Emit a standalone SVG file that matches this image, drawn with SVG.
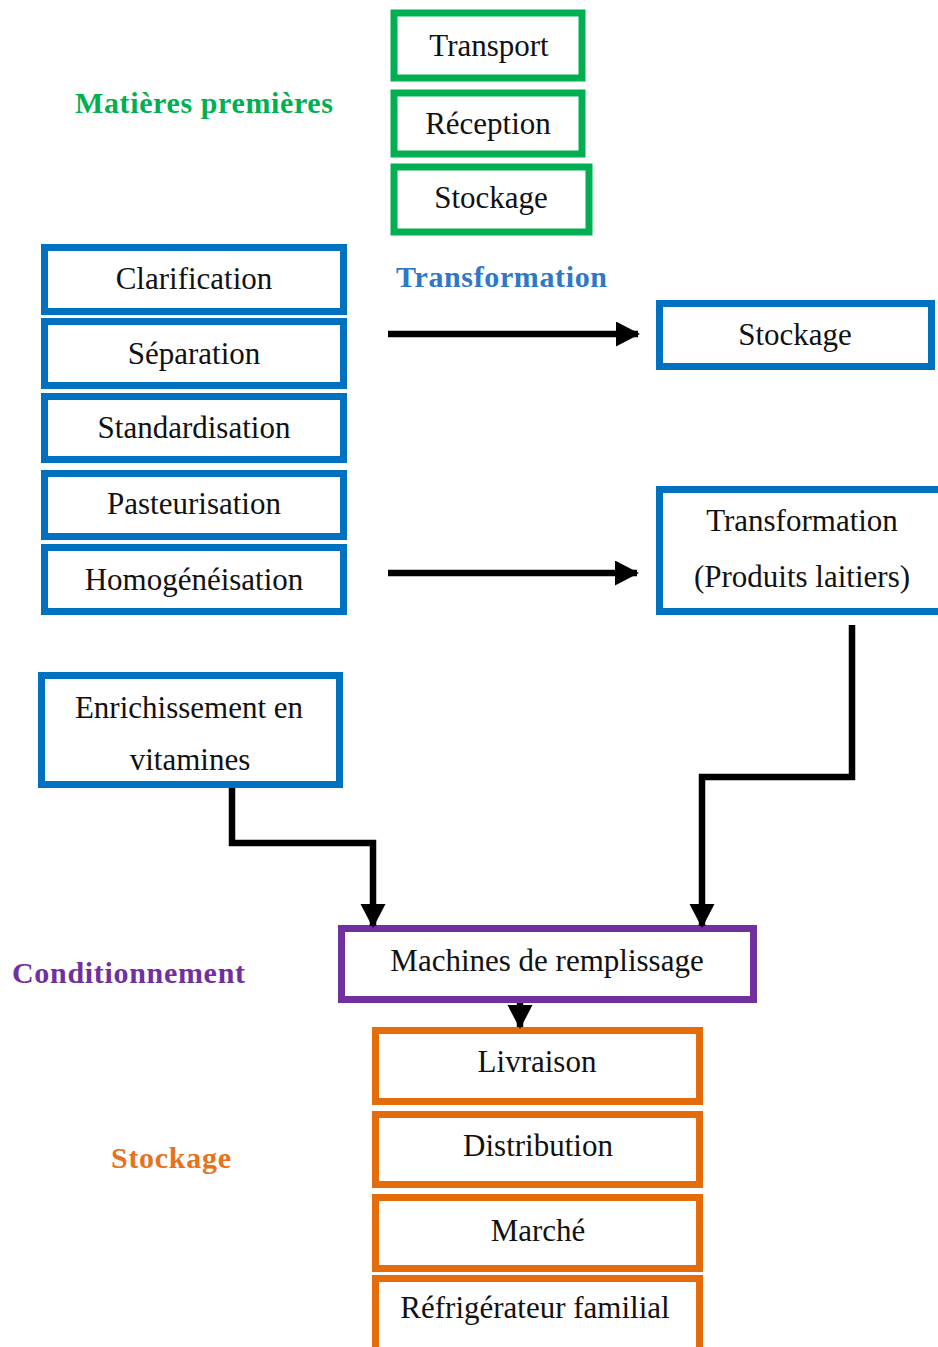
<svg xmlns="http://www.w3.org/2000/svg" width="938" height="1347" viewBox="0 0 938 1347">
  <style>
    .box { fill: #ffffff; stroke-width: 7; }
    .g { stroke: #00B050; }
    .b { stroke: #0070C0; }
    .p { stroke: #7030A0; }
    .o { stroke: #E46C0A; }
    .t { font-family: "Liberation Serif", "Times New Roman", serif; font-size: 31px; fill: #111111; text-anchor: middle; }
    .lbl { font-family: "Liberation Serif", "Times New Roman", serif; font-size: 30px; font-weight: bold; }
    .wire { fill: none; stroke: #000000; stroke-width: 6.5; stroke-linejoin: miter; }
  </style>
  <defs>
    <marker id="head" markerUnits="userSpaceOnUse" markerWidth="26" markerHeight="26" refX="22" refY="12.5" orient="auto">
      <polygon points="0,0 24,12.5 0,25" fill="#000000"/>
    </marker>
  </defs>
  <rect width="938" height="1347" fill="#ffffff"/>

  <!-- section labels -->
  <text class="lbl" x="75" y="113" fill="#00B050" textLength="258">Matières premières</text>
  <text class="lbl" x="396" y="287" fill="#2E78C8" textLength="211">Transformation</text>
  <text class="lbl" x="12" y="983" fill="#7030A0" textLength="233">Conditionnement</text>
  <text class="lbl" x="111" y="1168" fill="#E8721C" textLength="120">Stockage</text>

  <!-- raw material stages -->
  <g id="transport"><rect class="box g" x="394" y="13" width="188" height="65"/><text class="t" x="489" y="56">Transport</text></g>
  <g id="reception"><rect class="box g" x="394" y="93" width="188" height="61"/><text class="t" x="488" y="134">Réception</text></g>
  <g id="stockage-mp"><rect class="box g" x="394" y="167" width="195" height="65"/><text class="t" x="491" y="208">Stockage</text></g>

  <!-- processing stages -->
  <g id="clarification"><rect class="box b" x="44.5" y="247.5" width="299" height="64"/><text class="t" x="194" y="289">Clarification</text></g>
  <g id="separation"><rect class="box b" x="44.5" y="321.5" width="299" height="64"/><text class="t" x="194" y="364">Séparation</text></g>
  <g id="standardisation"><rect class="box b" x="44.5" y="396.5" width="299" height="63"/><text class="t" x="194" y="438">Standardisation</text></g>
  <g id="pasteurisation"><rect class="box b" x="44.5" y="473.5" width="299" height="63"/><text class="t" x="194" y="514">Pasteurisation</text></g>
  <g id="homogeneisation"><rect class="box b" x="44.5" y="547.5" width="299" height="64"/><text class="t" x="194" y="590">Homogénéisation</text></g>
  <g id="stockage-tr"><rect class="box b" x="659.5" y="303.5" width="272" height="63"/><text class="t" x="795" y="345">Stockage</text></g>
  <g id="transformation"><rect class="box b" x="659.5" y="489.5" width="290" height="122"/><text class="t" x="802" y="531">Transformation</text><text class="t" x="802" y="587">(Produits laitiers)</text></g>
  <g id="enrichissement"><rect class="box b" x="41.5" y="675.5" width="298" height="109"/><text class="t" x="189" y="718">Enrichissement en</text><text class="t" x="190" y="770">vitamines</text></g>

  <!-- packaging -->
  <g id="remplissage"><rect class="box p" x="341.5" y="928.5" width="412" height="71"/><text class="t" x="547" y="971">Machines de remplissage</text></g>

  <!-- storage and distribution -->
  <g id="livraison"><rect class="box o" x="375.5" y="1030.5" width="324" height="71"/><text class="t" x="537" y="1072">Livraison</text></g>
  <g id="distribution"><rect class="box o" x="375.5" y="1114.5" width="324" height="70"/><text class="t" x="538" y="1156">Distribution</text></g>
  <g id="marche"><rect class="box o" x="375.5" y="1197.5" width="324" height="71"/><text class="t" x="538" y="1241">Marché</text></g>
  <g id="refrigerateur"><rect class="box o" x="375.5" y="1278.5" width="324" height="80"/><text class="t" x="535" y="1318">Réfrigérateur familial</text></g>

  <!-- connectors -->
  <g id="connectors">
    <path class="wire" d="M388,334 H638" marker-end="url(#head)"/>
    <path class="wire" d="M388,573 H637" marker-end="url(#head)"/>
    <path class="wire" d="M232,788 V843 H373 V926" marker-end="url(#head)"/>
    <path class="wire" d="M852,625 V777 H702 V926" marker-end="url(#head)"/>
    <path class="wire" d="M520,1003 V1027" marker-end="url(#head)"/>
  </g>
</svg>
